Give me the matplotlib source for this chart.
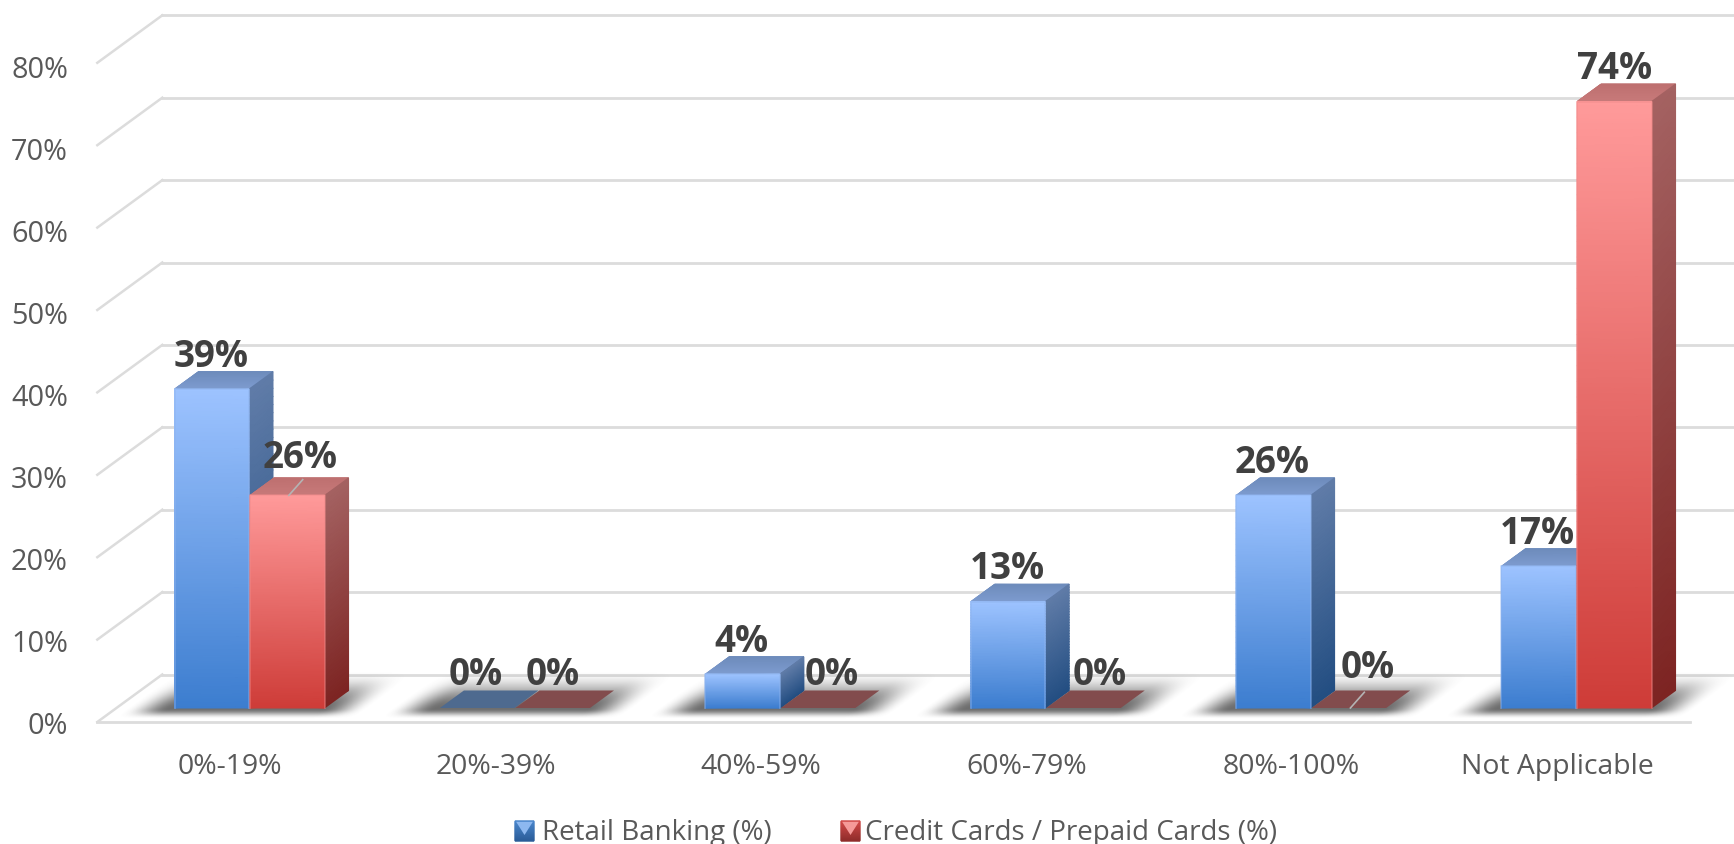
import numpy as np
import matplotlib
matplotlib.use('Agg')
import matplotlib.pyplot as plt
from matplotlib.colors import LinearSegmentedColormap
from matplotlib.patches import Polygon

# ##################################################
# 1) Data
# ##################################################

categories = ['0%-19%', '20%-39%', '40%-59%', '60%-79%', '80%-100%', 'Not Applicable']
retail = [38.7, 0, 4.1, 12.9, 25.8, 17.2]
cards = [25.8, 0, 0, 0, 0, 73.6]
y_ticks = [0, 10, 20, 30, 40, 50, 60, 70, 80]
series_names = ['Retail Banking (%)', 'Credit Cards / Prepaid Cards (%)']

# ##################################################
# 2) Scales: x in category units, y in percent
# ##################################################

W, H = 1734, 845
px_x = 265.4        # pixels per category
px_y = 8.24         # pixels per percent
x0_px, y0_px = 230, 723

# oblique offset of the back wall, and how far into the floor the bars stand
depth_x = 65 / px_x
depth_y = 47.5 / px_y
bar_x = 19 / px_x
bar_y = 14 / px_y
bar_w = 74.5 / px_x
side_x = 24 / px_x
side_y = 17.5 / px_y

BLUE = dict(front=('#9DC3FF', '#3C7DCF'), side=('#607CA8', '#234E82'),
            top=('#6E8CBC', '#7E9CD0'), flat='#4E6A8F', edge='#8FB4EE',
            key=('#4A86CC', '#2A5C98'), glow='#8DB8F0')
RED = dict(front=('#FF9A9A', '#CE3C38'), side=('#A46262', '#7D2422'),
           top=('#BE7070', '#C87A7A'), flat='#824C4D', edge='#F08A8A',
           key=('#D24A48', '#8E2C2A'), glow='#F59A98')

fig = plt.figure(figsize=(W / 100, H / 100), dpi=100)
ax = fig.add_axes([0, 0, 1, 1])
ax.set_xlim(-x0_px / px_x, (W - x0_px) / px_x)
ax.set_ylim(-(H - y0_px) / px_y, y0_px / px_y)
ax.axis('off')
plt.rcParams['font.family'] = ['Open Sans', 'DejaVu Sans']

left, right = -0.5, 5.5
grid_c = '#DCDCDC'
far_right = ax.get_xlim()[1]

# ##################################################
# 3) Walls and gridlines
# ##################################################

for t in y_ticks:
    ax.plot([left + depth_x, far_right], [t + depth_y] * 2, color=grid_c, lw=2, zorder=1)
    ax.plot([left, left + depth_x], [t, t + depth_y], color=grid_c, lw=1.8, zorder=1)
    # tick text runs a touch tighter than the gridlines
    ax.text((68 - x0_px) / px_x, t * 82 / 82.4 - 3.5 / px_y, f'{t}%', ha='right', va='center',
            fontsize=20.8, color='#595959')
ax.plot([left, right], [0, 0], color=grid_c, lw=2, zorder=1)

for i, c in enumerate(categories):
    ax.text(i, -5.3, c, ha='center', va='center', fontsize=20.4, color='#595959')


def shade(ax, xa, xb, ya, yb, colors, z):
    # corners are (xa[0], ya[0]) etc. running bottom to top, gradient goes up the face
    cmap = LinearSegmentedColormap.from_list('face', [colors[1], colors[0]])
    n = 40
    s = np.linspace(0, 1, n)
    X = np.array([xa[0] + s * (xa[1] - xa[0]), xb[0] + s * (xb[1] - xb[0])]).T
    Y = np.array([ya[0] + s * (ya[1] - ya[0]), yb[0] + s * (yb[1] - yb[0])]).T
    C = np.array([s, s]).T
    ax.pcolormesh(X, Y, C, cmap=cmap, shading='gouraud', vmin=0, vmax=1,
                  zorder=z, rasterized=True)


def ramp(u, a, b):
    t = np.clip((u - a) / (b - a), 0, 1)
    return t * t * (3 - 2 * t)


def floor_shadow(ax, x1, x2, z):
    # blurred shadow on the floor, sheared along the depth direction
    xs = np.linspace(x1 - 0.3, x2 + 0.4, 400)
    ys = np.linspace(bar_y - 1.8, bar_y + side_y + 2.8, 140)
    XX, YY = np.meshgrid(xs, ys)
    uu = XX - (YY - bar_y) * side_x / side_y
    a = ramp(uu, x1 - 0.18, x1 - 0.01) * (1 - ramp(uu, x2 + 0.0, x2 + 0.17))
    a = a * ramp(YY, bar_y - 1.3, bar_y - 0.1) * (1 - ramp(YY, bar_y + side_y - 2.2, bar_y + side_y + 2.4))
    rgba = np.zeros(a.shape + (4,))
    rgba[..., :3] = 0.33
    rgba[..., 3] = a * 0.85
    ax.imshow(rgba, extent=[xs[0], xs[-1], ys[0], ys[-1]], origin='lower',
              aspect='auto', zorder=z, interpolation='bilinear')


def bar3d(ax, x, v, style, z):
    y = bar_y
    r = x + bar_w
    if v == 0:
        ax.add_patch(Polygon([(x, y), (r, y), (r + side_x, y + side_y), (x + side_x, y + side_y)],
                             closed=True, facecolor=style['flat'], edgecolor='none', zorder=z))
        return
    top = y + v
    shade(ax, (x, x + side_x), (r, r + side_x), (top, top + side_y), (top, top + side_y), style['top'], z)
    shade(ax, (r, r), (r + side_x, r + side_x), (y, top), (y + side_y, top + side_y), style['side'], z)
    shade(ax, (x, x), (r, r), (y, top), (y, top), style['front'], z + 0.1)
    # bevel highlight round the front face
    ax.plot([x, x, r, r], [y, top, top, y], color=style['edge'], lw=1.3, alpha=0.45, zorder=z + 0.2)


# ##################################################
# 4) Bars, drawn left to right so the red hides the blue side
# ##################################################

ax.set_autoscale_on(False)
offset = bar_x - bar_w
for i in range(len(categories)):
    floor_shadow(ax, i + offset, i + offset + 2 * bar_w, 2)
for i in range(len(categories)):
    x1 = i + offset
    x2 = x1 + bar_w + 0.004
    bar3d(ax, x1, retail[i], BLUE, 3 + i * 0.01)
    bar3d(ax, x2, cards[i], RED, 3.5 + i * 0.01)

# small leader lines that sit on two of the red top faces
for i, v in [(0, cards[0]), (4, cards[4])]:
    x2 = i + offset + bar_w + 0.004 + bar_w * 0.52
    ax.plot([x2, x2 + side_x * 0.58], [bar_y + v, bar_y + v + side_y * 0.9],
            color='#B4B4B4', lw=1.2, zorder=5)

# ##################################################
# 5) Value labels
# ##################################################

lab = dict(ha='center', va='center', fontsize=26.5, fontweight='bold', color='#404040', zorder=6)
# zero labels next to a taller blue bar get pushed right, same as in the chart
nudge_cards = {0: 13, 2: 14, 3: 16, 4: 19}
for i in range(len(categories)):
    x1 = i + offset + bar_w / 2
    x2 = x1 + bar_w + 0.004
    ax.text(x1 - 1 / px_x, bar_y + retail[i] + 33.5 / px_y, f'{retail[i]:.0f}%', **lab)
    dx = nudge_cards.get(i, 0) / px_x
    extra = {0: 5, 4: 7}.get(i, 0) / px_y
    ax.text(x2 + dx, bar_y + cards[i] + 33.5 / px_y + extra, f'{cards[i]:.0f}%', **lab)

# ##################################################
# 6) Legend
# ##################################################

def legend_key(ax, x, style):
    w = 19 / px_x
    h = 20 / px_y
    y = -(842 - y0_px) / px_y
    shade(ax, (x, x), (x + w, x + w), (y, y + h), (y, y + h), style['key'], 7)
    ax.add_patch(Polygon([(x + 0.06 * w, y + h * 0.96), (x + 0.94 * w, y + h * 0.96), (x + 0.5 * w, y + 0.3 * h)],
                         closed=True, facecolor=style['glow'], edgecolor='none', zorder=7.1))


leg_y = -(833.5 - y0_px) / px_y
legend_key(ax, (515 - x0_px) / px_x, BLUE)
legend_key(ax, (841 - x0_px) / px_x, RED)
ax.text((542 - x0_px) / px_x, leg_y, series_names[0], ha='left', va='center', fontsize=20, color='#595959')
ax.text((865 - x0_px) / px_x, leg_y, series_names[1], ha='left', va='center', fontsize=20, color='#595959')

fig.savefig('out.png', dpi=100, facecolor='white')
